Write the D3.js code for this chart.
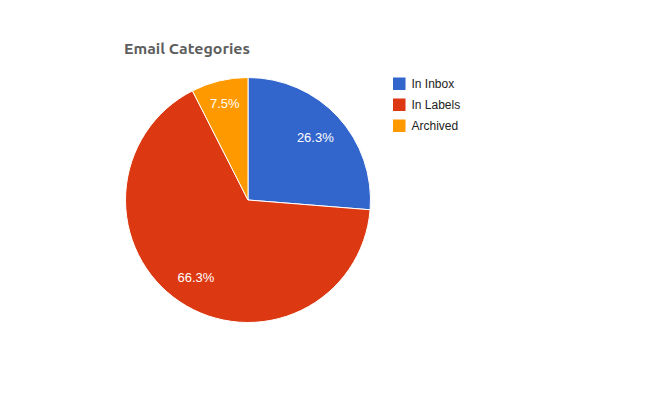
<!DOCTYPE html>
<html><head><meta charset="utf-8">
<script src="https://cdn.jsdelivr.net/npm/d3@7"></script>
<style>body{margin:0;background:#fff}svg{display:block}</style>
</head><body><svg id="c" width="650" height="400"></svg>
<script>
const categories = ["In Inbox", "In Labels", "Archived"];
const values = [26.3, 66.3, 7.5];
const colors = ["#3366cc", "#dc3912", "#ff9900"];
const title = "Email Categories";

const svg = d3.select("#c");
const W = 650, H = 400;
const cx = 248, cy = 200, R = 122.5;

svg.append("rect").attr("width", W).attr("height", H).attr("fill", "#fff");

svg.append("text").attr("x", 124).attr("y", 54)
  .attr("font-family", "Ubuntu, 'Open Sans', 'DejaVu Sans', sans-serif")
  .attr("font-weight", "bold").attr("font-size", 14.5).attr("fill", "#5e5e5e")
  .attr("textLength", 126).attr("lengthAdjust", "spacingAndGlyphs")
  .text(title);

const color = d3.scaleOrdinal().domain(categories).range(colors);
const pie = d3.pie().sort(null).value(d => d.v);
const data = categories.map((c, i) => ({c, v: values[i]}));
const arcs = pie(data);
const arc = d3.arc().innerRadius(0).outerRadius(R);

const g = svg.append("g").attr("transform", `translate(${cx},${cy})`);
g.selectAll("path").data(arcs).join("path")
  .attr("d", arc).attr("fill", d => color(d.data.c))
  .attr("stroke", "#fff").attr("stroke-width", 1);

const labels = g.selectAll("text").data(arcs).join("text")
  .attr("font-family", "'Liberation Sans', Arial, sans-serif")
  .attr("font-size", 13).attr("fill", "#fff")
  .attr("text-anchor", "middle")
  .text(d => d3.format(".1f")(d.data.v) + "%");

labels.each(function(d) {
  const w = this.getBBox().width, h = 11;
  const a = (d.startAngle + d.endAngle) / 2;
  const s = Math.sin(a), c = -Math.cos(a);
  const target = R * 0.893;
  let lo = 0, hi = R;
  for (let k = 0; k < 40; k++) {
    const m = (lo + hi) / 2;
    const fx = Math.abs(m * s) + w / 2, fy = Math.abs(m * c) + h / 2;
    if (Math.hypot(fx, fy) > target) hi = m; else lo = m;
  }
  d3.select(this).attr("x", lo * s).attr("y", lo * c + 4.5);
});

const leg = svg.append("g").selectAll("g").data(categories).join("g")
  .attr("transform", (d, i) => `translate(393,${77.5 + i * 21})`);
leg.append("rect").attr("width", 12.5).attr("height", 12.5).attr("fill", d => color(d));
leg.append("text").attr("x", 18.5).attr("y", 10.5)
  .attr("font-family", "'Liberation Sans', Arial, sans-serif")
  .attr("font-size", 12).attr("fill", "#222").text(d => d);
</script></body></html>
